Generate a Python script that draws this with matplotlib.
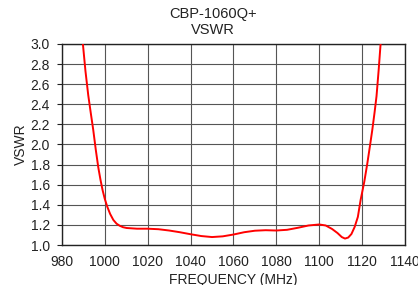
import matplotlib
matplotlib.use("Agg")
import matplotlib.pyplot as plt

plt.rcParams["font.family"] = ["Liberation Sans", "DejaVu Sans"]

freq_mhz = [989.8, 991.0, 992.3, 993.5, 994.6, 995.8, 997.0, 998.0, 999.0, 1000.0,
            1001.2, 1002.5, 1004.0, 1005.5, 1007.0, 1008.5, 1010.2, 1015.0, 1020.0,
            1025.0, 1030.0, 1035.0, 1040.0, 1045.0, 1050.0, 1055.0, 1060.0, 1065.0,
            1070.0, 1075.0, 1080.0, 1085.0, 1090.0, 1095.0, 1100.0, 1103.0, 1106.0,
            1108.5, 1110.5, 1112.0, 1113.5, 1115.0, 1116.5, 1118.0, 1119.3, 1121.0,
            1122.4, 1123.6, 1124.7, 1125.8, 1126.7, 1127.7, 1128.6]
vswr = [3.0, 2.73, 2.49, 2.31, 2.15, 1.95, 1.77, 1.65, 1.545, 1.46,
        1.38, 1.31, 1.25, 1.213, 1.192, 1.178, 1.17, 1.163, 1.163,
        1.158, 1.145, 1.128, 1.108, 1.09, 1.08, 1.087, 1.105, 1.128,
        1.143, 1.148, 1.145, 1.152, 1.172, 1.195, 1.205, 1.195, 1.16,
        1.12, 1.08, 1.065, 1.075, 1.11, 1.18, 1.28, 1.45, 1.63,
        1.81, 1.98, 2.14, 2.32, 2.48, 2.74, 3.0]

xticks = [980, 1000, 1020, 1040, 1060, 1080, 1100, 1120, 1140]
yticks = [1.0, 1.2, 1.4, 1.6, 1.8, 2.0, 2.2, 2.4, 2.6, 2.8, 3.0]

fig = plt.figure(figsize=(4.18, 2.85), dpi=100)
ax = fig.add_axes([0.148, 0.140, 0.821, 0.706])

ax.plot(freq_mhz, vswr, color="#ff0000", linewidth=1.4, zorder=3)

ax.set_xlim(980, 1140)
ax.set_ylim(1.0, 3.0)
ax.set_xticks(xticks)
ax.set_yticks(yticks)
ax.set_yticklabels([f"{v:.1f}" for v in yticks])
ax.grid(True, color="#555555", linewidth=0.8)
ax.tick_params(axis="x", length=0, labelsize=10, colors="#222222", pad=7)
ax.tick_params(axis="y", length=3.5, width=0.8, direction="out", labelsize=10,
               colors="#222222", pad=5)
for spine in ax.spines.values():
    spine.set_color("#222222")
    spine.set_linewidth(1.0)

ax.set_xlabel("FREQUENCY (MHz)", fontsize=10, color="#222222", labelpad=3)
ax.set_ylabel("VSWR", fontsize=10, color="#222222", labelpad=2)
fig.text(0.51, 0.975, "CBP-1060Q+\nVSWR", fontsize=10.5, color="#222222",
         ha="center", va="top", linespacing=1.15)

fig.savefig("out.png", dpi=100)
